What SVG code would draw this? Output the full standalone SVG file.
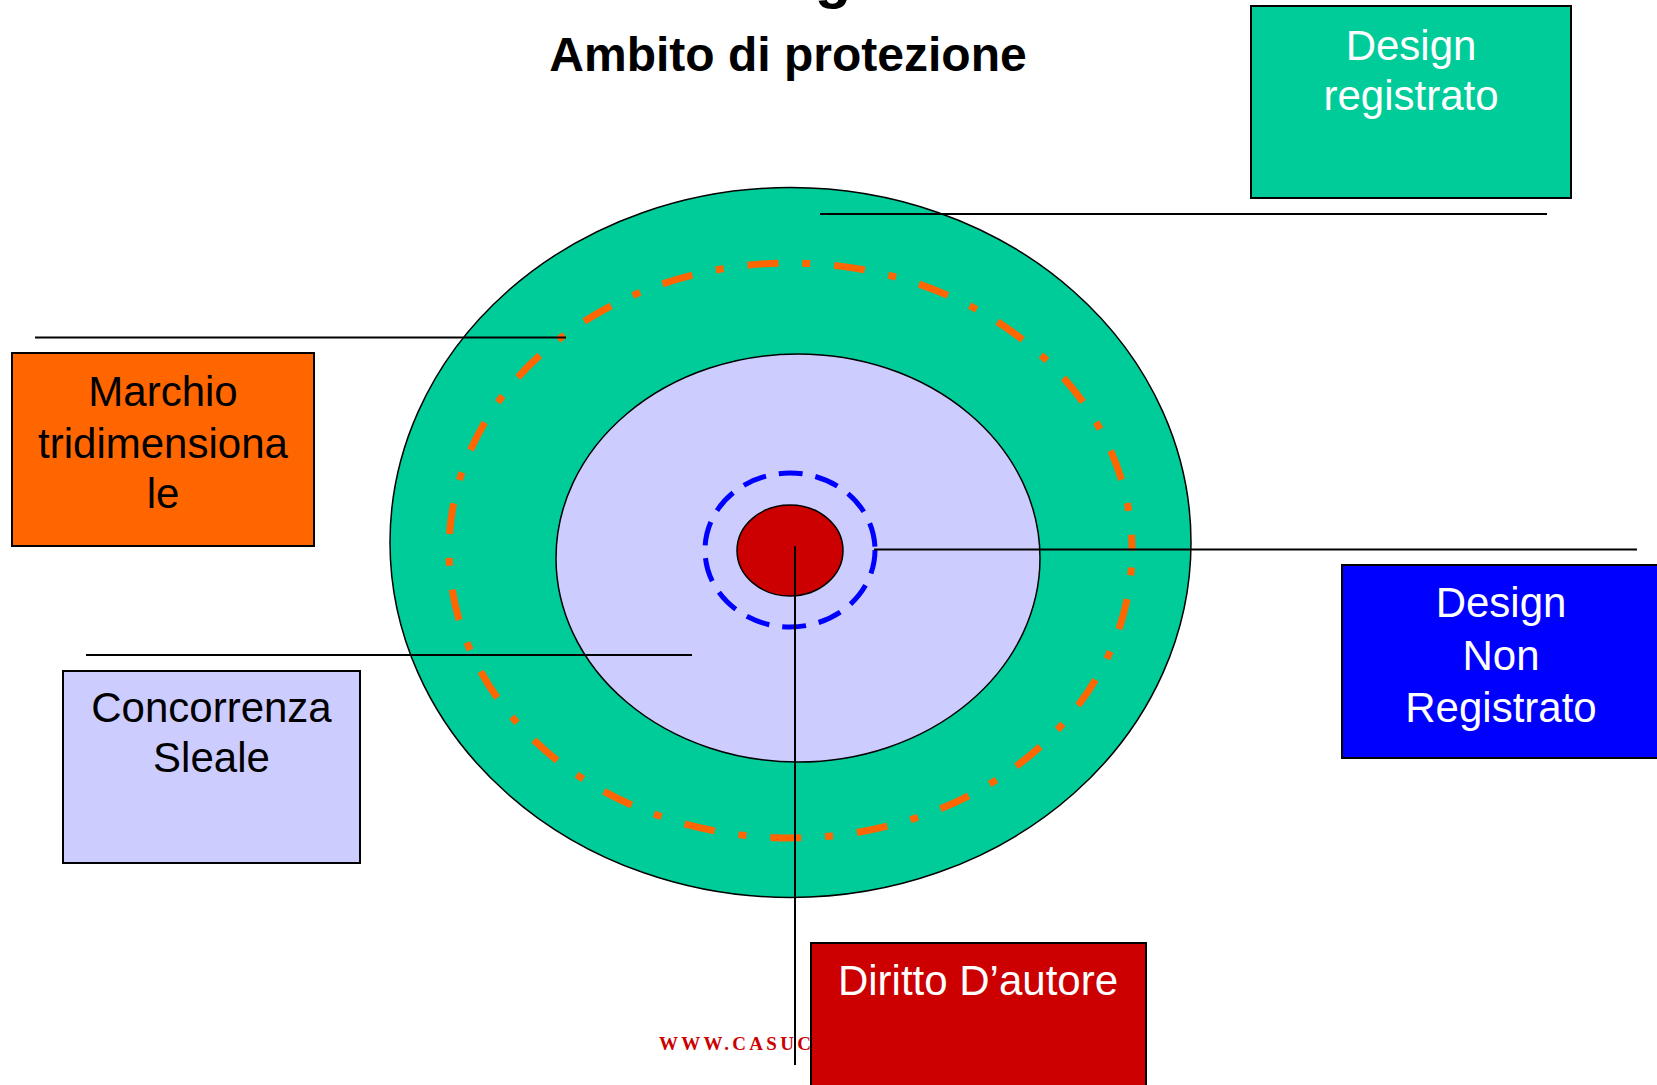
<svg xmlns="http://www.w3.org/2000/svg" width="1657" height="1085" viewBox="0 0 1657 1085">
<style>
.box{stroke:#000;stroke-width:2}
.lbl{font-family:"Liberation Sans",Arial,sans-serif;font-size:42px;text-anchor:middle}
.ln{stroke:#000;stroke-width:2;fill:none}
.title{font-family:"Liberation Sans",Arial,sans-serif;font-weight:bold;text-anchor:middle;fill:#000}
</style>
<rect width="1657" height="1085" fill="#fff"/>
<g id="titles">
<text class="title" x="788" y="-3" font-size="60">Design</text>
<text class="title" x="788" y="71" font-size="48">Ambito di protezione</text>
</g>
<g id="rings">
<ellipse id="ring-design-registrato" cx="790.5" cy="542.5" rx="400.5" ry="355" fill="#00CC99" stroke="#000" stroke-width="1.5"/>
<ellipse id="ring-marchio" cx="790.5" cy="550.5" rx="341.5" ry="287.5" fill="none" stroke="#FF6600" stroke-width="7" stroke-dasharray="31 24 8 24" stroke-dashoffset="38"/>
<ellipse id="ring-concorrenza" cx="798" cy="558" rx="242" ry="204" fill="#CCCCFF" stroke="#000" stroke-width="1.5"/>
<ellipse id="ring-non-registrato" cx="790" cy="550" rx="85" ry="77" fill="none" stroke="#0000FF" stroke-width="5" stroke-dasharray="24 13"/>
<ellipse id="core-diritto" cx="790" cy="550.5" rx="53" ry="45.5" fill="#CC0000" stroke="#000" stroke-width="1.5"/>
</g>
<text x="659" y="1050" font-family="'Liberation Serif','Times New Roman',serif" font-weight="bold" font-size="19" fill="#CC0000" textLength="152" lengthAdjust="spacing">WWW.CASUC</text>
<g id="node-design-registrato">
<rect class="box" x="1251" y="6" width="320" height="192" fill="#00CC99"/>
<text class="lbl" fill="#fff" x="1411" y="60">Design</text>
<text class="lbl" fill="#fff" x="1411" y="110">registrato</text>
</g>
<g id="node-marchio">
<rect class="box" x="12" y="353" width="302" height="193" fill="#FF6600"/>
<text class="lbl" fill="#000" x="163" y="406">Marchio</text>
<text class="lbl" fill="#000" x="163" y="458">tridimensiona</text>
<text class="lbl" fill="#000" x="163" y="508">le</text>
</g>
<g id="node-concorrenza">
<rect class="box" x="63" y="671" width="297" height="192" fill="#CCCCFF"/>
<text class="lbl" fill="#000" x="211.5" y="722">Concorrenza</text>
<text class="lbl" fill="#000" x="211.5" y="772">Sleale</text>
</g>
<g id="node-non-registrato">
<rect class="box" x="1342" y="565" width="320" height="193" fill="#0000FF"/>
<text class="lbl" fill="#fff" x="1501" y="617">Design</text>
<text class="lbl" fill="#fff" x="1501" y="670">Non</text>
<text class="lbl" fill="#fff" x="1501" y="722">Registrato</text>
</g>
<g id="node-diritto">
<rect class="box" x="811" y="943" width="335" height="150" fill="#CC0000"/>
<text class="lbl" fill="#fff" x="978" y="995">Diritto D’autore</text>
</g>
<g id="connectors">
<line class="ln" x1="820" y1="214" x2="1547" y2="214"/>
<line class="ln" x1="35" y1="337.5" x2="566" y2="337.5"/>
<line class="ln" x1="86" y1="655" x2="692" y2="655"/>
<line class="ln" x1="874" y1="549.5" x2="1637" y2="549.5"/>
<line class="ln" x1="795" y1="546" x2="795" y2="1065"/>
</g>
</svg>
